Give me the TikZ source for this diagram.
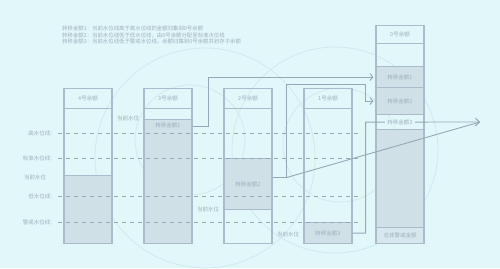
\documentclass[tikz,border=0pt]{standalone}
\usepackage{fontspec}
\setmainfont{Noto Sans CJK SC}
\usetikzlibrary{arrows.meta, positioning, calc}
\definecolor{bgcyan}{RGB}{225,247,250}
\definecolor{boxline}{RGB}{170,188,202}
\definecolor{boxfill}{RGB}{207,224,231}
\definecolor{softfill}{RGB}{214,232,238}
\definecolor{textgray}{RGB}{160,176,188}
\definecolor{dashgray}{RGB}{150,168,182}
\definecolor{ringcol}{RGB}{206,234,238}

\begin{document}
\begin{tikzpicture}[x=1pt, y=-1pt,
        every node/.style={font=\fontsize{5.5}{6.5}\selectfont, text=textgray, inner sep=0pt},
        head/.style={rectangle, draw=boxline, line width=1.1pt, minimum width=48pt, minimum height=20pt, anchor=north},
        body/.style={rectangle, draw=boxline, line width=1.1pt, minimum width=48pt, anchor=north},
        amount/.style={body, fill=boxfill},
        level/.style={draw=dashgray, line width=0.8pt, dash pattern=on 4pt off 4pt},
        flow/.style={draw=dashgray, line width=0.9pt},
        tip/.style={-{Straight Barb[length=3pt, width=7pt]}, shorten >=2pt}
    ]
        % background and faint rings
        \fill[bgcyan] (0,0) rectangle (500,268);
        \useasboundingbox (0,0) rectangle (500,268);
        \draw[ringcol, line width=0.8pt] (205,158) circle[radius=110pt];
        \draw[ringcol, line width=0.8pt] (190,140) circle[radius=55pt];
        \draw[ringcol, line width=0.8pt] (335,150) circle[radius=103pt];
        \draw[ringcol, line width=0.8pt] (340,145) circle[radius=57pt];

        % notes
        \node[anchor=north west, align=left, font=\fontsize{5.4}{6.6}\selectfont] (note) at (62,26)
            {转移金额1：当前水位线高于高水位线的金额归集到0号余额\\
             转移金额2：当前水位线低于低水位线，由0号余额分配至标准水位线\\
             转移金额3：当前水位线低于警戒水位线，余额归集到0号余额并划存子余额};

        % balance 4
        \node[head] (h4) at (88,88) {4号余额};
        \node[body, minimum height=135pt] (b4) at (88,108) {};
        \node[amount, minimum height=68pt] (f4) at (88,175) {};

        % balance 3
        \node[head] (h3) at (168,88) {3号余额};
        \node[body, minimum height=135pt] (b3) at (168,108) {};
        \node[amount, minimum height=124pt, label={[anchor=north, yshift=-4pt]north:转移金额1}] (f3) at (168,119) {};

        % balance 2
        \node[head] (h2) at (248,88) {2号余额};
        \node[body, minimum height=135pt] (b2) at (248,108) {};
        \node[amount, minimum height=51pt] (f2) at (248,158) {转移金额2};

        % balance 1
        \node[head] (h1) at (328,88) {1号余额};
        \node[body, minimum height=135pt] (b1) at (328,108) {};
        \node[amount, minimum height=21pt] (f1) at (328,222) {转移金额3};

        % balance 0
        \node[head, minimum height=18pt] (h0) at (400,25) {0号余额};
        \node[body, minimum height=23pt] (e0) at (400,43) {};
        \node[amount, minimum height=21pt] (t1) at (400,66) {转移金额1};
        \node[amount, minimum height=27pt] (t2) at (400,87) {转移金额2};
        \node[body, minimum height=15pt] (t3) at (400,114) {};
        \node[amount, minimum height=98pt] (rest) at (400,129) {};
        \node[body, fill=softfill, minimum height=16pt] (total) at (400,227) {总体警戒金额};

        % water levels
        \coordinate (lvend) at (362,0);
        \foreach \nm/\yy/\txt in {high/133/高水位线：, std/158/标准水位线：, low/196/低水位线：, warn/222/警戒水位线：} {
            \node[anchor=east] (lv\nm) at (56,\yy) {\txt};
            \draw[level] ([xshift=2pt]lv\nm.east) -- (lv\nm.east -| lvend);
        }

        % current levels
        \node[anchor=west] (cur4) at (24,177) {当前水位};
        \node[anchor=west] (cur3) at (117,118) {当前水位};
        \node[anchor=west] (cur2) at (197,209) {当前水位};
        \node[anchor=west] (cur1) at (277,234) {当前水位};

        % transfers
        \coordinate (merge) at (480,122);
        \draw[flow, tip] ([yshift=-7pt]f3.north east) -- ++(16,0) |- (t1.west);
        \draw[flow] ([yshift=6.5pt]f2.east) -- ++(14,0) coordinate (split);
        \draw[flow, tip] (split) -- ++(0,-93) -- ++(79,0) |- (t2.west);
        \draw[flow] (split) -- (merge);
        \draw[flow, -{Straight Barb[length=4pt, width=8pt]}] (f1.east) -- ++(13,0) |- (t3.west)
            -- node[fill=bgcyan, inner xsep=2pt, inner ysep=1pt] {转移金额3} (t3.east) -- (merge);
    \end{tikzpicture}
\end{document}
